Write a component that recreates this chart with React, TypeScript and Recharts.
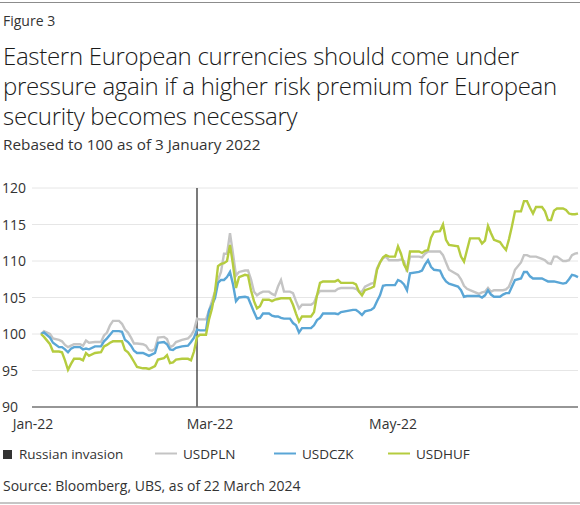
import { LineChart, Line, XAxis, YAxis, CartesianGrid, ReferenceLine } from "recharts";

const FONT = "'Open Sans', sans-serif";
const TEXT = "#333333";
const GRID = "#e6e6e6";
const AXIS = "#777777";
const PLN_COLOR = "#c4c4c4";
const CZK_COLOR = "#5aa6d6";
const HUF_COLOR = "#b5cc3f";

// days counted from 1 Jan 2022
const DAYS = [
  2, 3, 5, 6, 8, 9, 10, 11, 12, 13, 15, 16, 17, 18, 20, 22, 23, 24, 25, 26, 28, 29, 30, 31, 32, 33, 34, 36, 37,
  38, 39, 40, 41, 43, 44, 45, 46, 47, 49, 51, 52, 53, 54, 55, 57, 58, 59, 60, 61, 62, 63, 64, 65, 66, 67, 68,
  70, 71, 72, 73, 74, 75, 76, 78, 79, 80, 81, 82, 83, 85, 86, 87, 88, 89, 92, 93, 94, 95, 96, 100, 101, 102,
  106, 107, 108, 109, 110, 112, 113, 114, 115, 116, 117, 118, 120, 121, 122, 123, 124, 125, 128, 129, 130,
  131, 132, 133, 135, 136, 137, 138, 141, 142, 143, 144, 145, 148, 149, 150, 151, 152, 153, 155, 156, 157,
  158, 159, 160, 162, 163, 164, 165, 166, 167, 169, 170, 171, 172, 173, 174, 176, 177, 178, 179, 180, 181,
];

const PLN = [
  100.0, 100.4, 100.0, 99.4, 99.2, 99.0, 98.5, 98.2, 98.4, 98.6, 98.6, 98.4, 99.1, 98.8, 98.9, 98.9, 99.8,
  100.2, 101.2, 101.8, 101.8, 101.4, 100.6, 100.2, 99.5, 98.7, 98.7, 98.6, 98.4, 97.8, 97.7, 98.0, 99.5, 99.6,
  99.3, 98.2, 98.4, 98.9, 99.2, 99.4, 99.8, 100.5, 102.1, 102.0, 102.0, 103.2, 104.5, 105.8, 107.4, 108.5,
  111.0, 111.0, 113.8, 111.0, 108.0, 108.5, 108.7, 108.7, 107.5, 105.8, 105.3, 105.6, 105.8, 105.8, 105.5,
  105.3, 106.5, 107.4, 105.8, 105.8, 105.6, 104.5, 103.5, 104.0, 104.0, 104.3, 105.3, 105.9, 105.9, 105.9,
  106.2, 106.3, 106.3, 106.2, 105.8, 105.8, 106.5, 106.9, 107.0, 109.0, 109.8, 110.4, 110.6, 110.1, 110.1,
  110.1, 110.2, 110.0, 108.5, 110.6, 110.6, 110.5, 111.0, 111.3, 111.3, 111.3, 111.3, 110.8, 109.8, 108.8,
  108.1, 107.5, 106.6, 106.2, 106.0, 105.5, 105.7, 105.8, 106.3, 105.8, 106.0, 106.0, 106.0, 106.1, 106.5,
  107.5, 108.8, 109.8, 110.8, 110.8, 110.6, 110.6, 110.6, 110.3, 110.1, 109.7, 109.6, 110.6, 110.6, 110.0,
  110.0, 110.1, 110.8, 111.0, 111.1,
];

const CZK = [
  100.0, 100.2, 99.5, 98.8, 98.2, 98.2, 97.9, 97.5, 98.0, 98.2, 98.2, 97.9, 98.0, 97.9, 98.3, 98.3, 99.0,
  99.4, 99.9, 100.4, 100.4, 100.3, 99.2, 98.9, 98.4, 97.7, 97.4, 97.4, 97.2, 97.0, 97.2, 97.4, 98.8, 98.9,
  98.6, 97.9, 97.8, 98.1, 98.3, 98.4, 98.9, 99.5, 100.6, 100.5, 100.5, 103.2, 104.0, 104.9, 107.0, 107.4,
  107.4, 107.8, 108.5, 106.8, 104.5, 105.0, 105.1, 105.0, 104.0, 103.0, 102.1, 102.2, 102.8, 102.8, 102.5,
  102.4, 102.4, 102.2, 102.1, 102.1, 101.5, 101.2, 100.2, 100.8, 100.8, 101.2, 101.9, 102.2, 102.8, 102.8,
  102.7, 103.0, 103.3, 103.3, 103.0, 102.6, 103.1, 103.3, 103.6, 104.5, 105.3, 106.6, 106.7, 106.7, 106.7,
  107.4, 107.2, 106.8, 106.0, 108.3, 108.5, 108.7, 109.5, 110.1, 109.2, 108.8, 108.7, 107.8, 107.2, 106.9,
  106.5, 106.0, 105.1, 105.2, 105.2, 105.2, 105.0, 105.3, 106.0, 105.4, 105.1, 105.1, 105.4, 105.6, 105.6,
  106.5, 107.4, 107.6, 108.5, 108.5, 107.9, 107.6, 107.6, 107.6, 107.4, 107.2, 107.2, 107.2, 107.1, 106.9,
  107.0, 107.5, 108.1, 108.0, 107.8,
];

const HUF = [
  100.0, 99.6, 98.6, 97.6, 97.6, 97.5, 96.4, 95.1, 95.9, 96.6, 96.6, 96.4, 97.4, 97.0, 97.4, 97.5, 98.3, 98.5,
  98.8, 99.0, 99.0, 99.0, 97.8, 97.5, 96.9, 96.2, 95.5, 95.3, 95.3, 95.2, 95.4, 95.6, 96.5, 96.7, 97.1, 96.0,
  96.1, 96.5, 96.6, 96.6, 96.4, 97.6, 99.6, 99.9, 99.9, 102.0, 103.5, 105.8, 109.3, 109.6, 109.7, 110.0,
  112.2, 109.5, 106.3, 107.8, 108.1, 108.0, 106.0, 104.5, 103.5, 103.8, 104.7, 104.7, 104.5, 104.7, 104.8,
  104.9, 104.9, 104.9, 104.0, 102.8, 101.7, 102.4, 102.4, 103.0, 105.3, 107.0, 107.2, 107.2, 107.4, 107.0,
  107.0, 106.8, 105.8, 105.3, 106.0, 106.3, 106.5, 108.8, 109.8, 110.5, 110.8, 110.6, 110.6, 112.0, 111.0,
  109.5, 108.8, 111.3, 111.3, 111.1, 111.4, 111.5, 113.2, 114.0, 114.1, 115.0, 112.9, 112.2, 112.0, 110.6,
  109.9, 111.5, 113.1, 113.1, 112.4, 112.8, 114.8, 113.8, 112.9, 112.6, 112.0, 111.5, 113.0, 114.8, 116.8,
  116.8, 118.2, 118.2, 117.3, 116.5, 117.4, 117.4, 116.8, 115.6, 115.6, 116.9, 117.2, 117.2, 117.0, 116.5,
  116.4, 116.4, 116.5,
];

const X_TICKS = [0, 59, 120];
const X_LABELS = ["Jan-22", "Mar-22", "May-22"];
const Y_TICKS = [90, 95, 100, 105, 110, 115, 120];
const INVASION_DAY = 54;

const TITLE_LINES = [
  "Eastern European currencies should come under",
  "pressure again if a higher risk premium for European",
  "security becomes necessary",
];

const data = DAYS.map((day, i) => ({ day, pln: PLN[i], czk: CZK[i], huf: HUF[i] }));

function XTick(props: any) {
  const { x, payload } = props;
  const label = X_LABELS[X_TICKS.indexOf(payload.value)];
  return (
    <text x={x - 2} y={429} textAnchor="middle" fontSize={14} fill={TEXT} fontFamily={FONT}>
      {label}
    </text>
  );
}

function YTick(props: any) {
  const { y, payload } = props;
  return (
    <text x={2} y={y + 5} textAnchor="start" fontSize={14} fill={TEXT} fontFamily={FONT}>
      {payload.value}
    </text>
  );
}

function LegendLine({ x, color, label }: { x: number; color: string; label: string }) {
  return (
    <g>
      <line x1={x} x2={x + 22} y1={453.5} y2={453.5} stroke={color} strokeWidth={2} />
      <text x={x + 28} y={459} fontSize={13.5} fill={TEXT} fontFamily={FONT}>
        {label}
      </text>
    </g>
  );
}

export default function App() {
  return (
    <div style={{ position: "absolute", left: 0, top: 0, width: 580, height: 505, background: "#fff" }}>
      <svg width={580} height={505} style={{ position: "absolute", left: 0, top: 0 }}>
        <line x1={0} x2={580} y1={2.5} y2={2.5} stroke="#8c8c8c" strokeWidth={1} />
        <text x={3} y={26} fontSize={14} fill={TEXT} fontFamily={FONT}>
          Figure 3
        </text>
        {TITLE_LINES.map((t, i) => (
          <text
            key={t}
            x={3}
            y={65 + i * 30}
            fontSize={24}
            fontWeight={300}
            fill="#1a1a1a"
            fontFamily={FONT}
            letterSpacing={-0.3}
          >
            {t}
          </text>
        ))}
        <text x={3} y={150} fontSize={15.3} fill={TEXT} fontFamily={FONT}>
          Rebased to 100 as of 3 January 2022
        </text>
        <rect x={3} y={450} width={9} height={9} fill="#333" />
        <text x={19} y={459} fontSize={13.5} fill={TEXT} fontFamily={FONT}>
          Russian invasion
        </text>
        <LegendLine x={155} color={PLN_COLOR} label="USDPLN" />
        <LegendLine x={274} color={CZK_COLOR} label="USDCZK" />
        <LegendLine x={388} color={HUF_COLOR} label="USDHUF" />
        <text x={3} y={491} fontSize={14} fill={TEXT} fontFamily={FONT}>
          Source: Bloomberg, UBS, as of 22 March 2024
        </text>
        <line x1={0} x2={580} y1={503} y2={503} stroke="#8c8c8c" strokeWidth={1} />
      </svg>
      <div style={{ position: "absolute", left: 0, top: 0 }}>
        <LineChart width={580} height={440} data={data} margin={{ top: 188, right: 2, bottom: 3, left: 2 }}>
          <CartesianGrid stroke={GRID} vertical={false} />
          <XAxis
            dataKey="day"
            type="number"
            domain={[-1, 181]}
            ticks={X_TICKS}
            tick={XTick}
            tickLine={false}
            axisLine={{ stroke: AXIS, strokeWidth: 1.3 }}
            height={30}
          />
          <YAxis
            domain={[90, 120]}
            ticks={Y_TICKS}
            tick={YTick}
            tickLine={false}
            axisLine={false}
            width={30}
          />
          <ReferenceLine x={INVASION_DAY} stroke="#333" strokeWidth={1.3} />
          <Line dataKey="pln" stroke={PLN_COLOR} strokeWidth={2.4} dot={false} isAnimationActive={false} />
          <Line dataKey="czk" stroke={CZK_COLOR} strokeWidth={2.4} dot={false} isAnimationActive={false} />
          <Line dataKey="huf" stroke={HUF_COLOR} strokeWidth={2.4} dot={false} isAnimationActive={false} />
        </LineChart>
      </div>
    </div>
  );
}
